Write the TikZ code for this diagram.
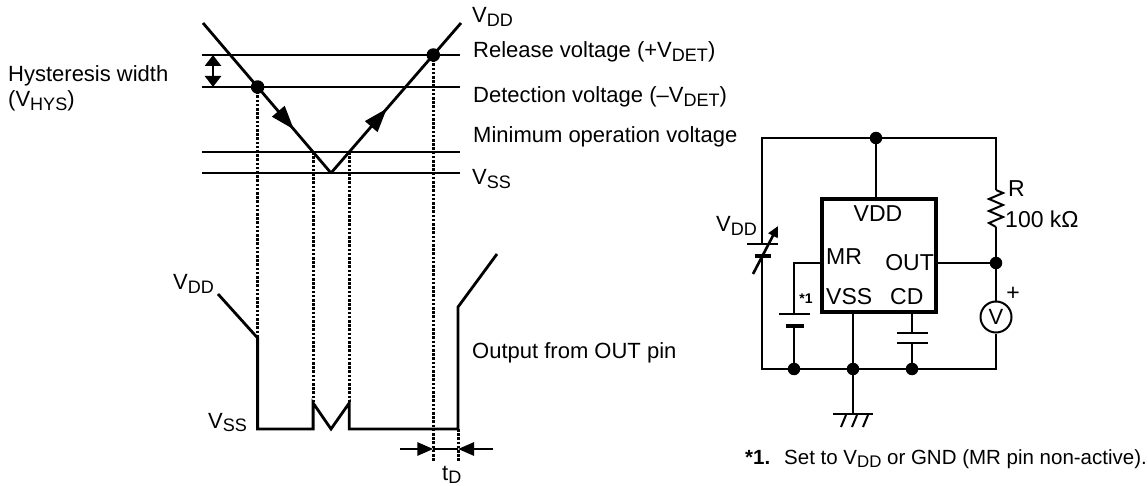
\documentclass[tikz,border=0pt]{standalone}
\usepackage{fontspec}
\setmainfont{Liberation Sans}
\usetikzlibrary{arrows.meta,decorations.markings}
\makeatletter
\newcommand{\sbs}[1]{\raisebox{-0.17em}{\fontsize{\fpeval{0.82*\f@size}}{10}\selectfont #1}}
\makeatother
\begin{document}
\begin{tikzpicture}[x=1pt,y=-1pt,
  txt/.style={font=\fontsize{22}{26}\selectfont, inner sep=0pt},
  ctxt/.style={font=\fontsize{23}{27}\selectfont, inner sep=0pt},
  ftxt/.style={font=\fontsize{20.5}{24}\selectfont, inner sep=0pt},
  mainln/.style={line width=2.8pt},
  wireln/.style={line width=2pt},
  boxln/.style={line width=3.2pt},
  dotln/.style={line width=3pt, dash pattern=on 2.6pt off 1.6pt},
  jdot/.style={circle, fill=black, inner sep=0pt, minimum size=13.5pt},
  cdot/.style={circle, fill=black, inner sep=0pt, minimum size=12.5pt},
  headT/.style={-{Triangle[length=16pt,width=13pt]}},
  midhead/.style={postaction={decorate, decoration={markings,
     mark=at position #1 with {\arrow{Triangle[length=24pt,width=16pt]}}}}},
]
\useasboundingbox (0,0) rectangle (1148,486);

% ---------------- top: voltage levels ----------------
\coordinate (relA) at (202,55);  \coordinate (relB) at (460,55);
\coordinate (detA) at (202,87);  \coordinate (detB) at (460,87);
\coordinate (minA) at (202,152); \coordinate (minB) at (460,152);
\coordinate (vssA) at (202,173); \coordinate (vssB) at (460,173);
\coordinate (dS) at (203,23);
\coordinate (vB) at (331,173);
\coordinate (aE) at (461,23);

\draw[mainln] (relA) -- (relB);
\draw[mainln] (detA) -- (detB);
\draw[mainln] (minA) -- (minB);
\draw[mainln] (vssA) -- (vssB);

\coordinate (detDot) at (intersection of dS--vB and detA--detB);
\coordinate (relDot) at (intersection of vB--aE and relA--relB);
\coordinate (minL) at (intersection of dS--vB and minA--minB);
\coordinate (minR) at (intersection of vB--aE and minA--minB);

% hysteresis arrow
\coordinate (hysT) at (213,55);
\coordinate (hysB) at (213,87);
\draw[line width=2.8pt, {Triangle[length=11pt,width=16pt]}-{Triangle[length=11pt,width=16pt]}] (hysT) -- (hysB);

% output waveform coordinates
\coordinate (oA) at (218,294);
\coordinate (oB) at (detDot |- 0,338);
\coordinate (oC) at (detDot |- 0,429);
\coordinate (oD) at (minL |- 0,429);
\coordinate (oE) at (minL |- 0,403);
\coordinate (oF) at (vB |- 0,429);
\coordinate (oG) at (minR |- 0,403);
\coordinate (oH) at (minR |- 0,429);
\coordinate (oI) at (458,429);
\coordinate (oJ) at (458,307);
\coordinate (oK) at (497,254);
\coordinate (tdL) at (relDot |- 0,461);
\coordinate (tdR) at (458,461);

% dotted projections
\draw[dotln] (detDot) -- (oB);
\draw[dotln] (minL) -- (oE);
\draw[dotln] (minR) -- (oG);
\draw[dotln] (relDot) -- (tdL);
\draw[dotln] (oI) -- (tdR);

% V input
\draw[mainln, midhead=0.71] (dS) -- (vB);
\draw[mainln, midhead=0.43] (vB) -- (aE);
\node[jdot] (dDot) at (detDot) {};
\node[jdot] (rDot) at (relDot) {};

% output
\draw[mainln, line join=miter] (oA) -- (oB) -- (oC) -- (oD) -- (oE) -- (oF) -- (oG) -- (oH) -- (oI) -- (oJ) -- (oK);

% t_D arrows
\coordinate (tdLa) at (400,449);
\coordinate (tdLb) at (relDot |- 0,449);
\coordinate (tdRa) at (493,449);
\coordinate (tdRb) at (458,449);
\draw[line width=2.8pt, headT] (tdLa) -- (tdLb);
\draw[line width=2.8pt, headT] (tdRa) -- (tdRb);
\draw[line width=1.4pt] (tdLb) -- (tdRb);

% labels left part
\node[txt, anchor=base west] (lVdd) at (472,23) {V\sbs{DD}};
\node[txt, anchor=base west] (lRel) at (473,58) {Release voltage (+V\sbs{DET})};
\node[txt, anchor=base west] (lDet) at (473,103) {Detection voltage (–V\sbs{DET})};
\node[txt, anchor=base west] (lMin) at (473,143) {Minimum operation voltage};
\node[txt, anchor=base west] (lVss) at (472,185) {V\sbs{SS}};
\node[txt, anchor=base west] (lHys) at (8,82) {Hysteresis width};
\node[txt, anchor=base west] (lHys2) at (8,107) {(V\sbs{HYS})};
\node[txt, anchor=base west] (oVdd) at (173,290) {V\sbs{DD}};
\node[txt, anchor=base west] (oVss) at (208,428) {V\sbs{SS}};
\node[txt, anchor=base west] (lOut) at (472,358) {Output from OUT pin};
\node[txt, anchor=base west] (lTd) at (442,480) {t\sbs{D}};

% ---------------- circuit ----------------
\coordinate (cTL) at (762,138);
\coordinate (cTR) at (996,138);
\coordinate (cBL) at (762,369);
\coordinate (cBR) at (996,369);
\coordinate (batTop) at (762,244);
\coordinate (batBot) at (762,256);
\coordinate (rTop) at (996,190);
\coordinate (rBot) at (996,227);
\coordinate (outJ) at (996,263);
\coordinate (vddPin) at (876,199);
\coordinate (outPin) at (936,263);
\coordinate (mrPin) at (822,263);
\coordinate (mrCorner) at (794,263);
\coordinate (mrBatTop) at (794,314);
\coordinate (mrBatBot) at (794,326);
\coordinate (vssPin) at (853,312);
\coordinate (cdPin) at (912,312);
\coordinate (capTop) at (912,333);
\coordinate (capBot) at (912,343);
\coordinate (gnd) at (853,414);

% IC box
\draw[boxln] (822,199) rectangle (936,312);
\node[ctxt] (tVDD) at (878,213.5) {VDD};
\node[ctxt, anchor=base west] (tMR) at (826,265) {MR};
\node[ctxt, anchor=base east] (tOUT) at (934,271) {OUT};
\node[ctxt, anchor=base west] (tVSS) at (826,305) {VSS};
\node[ctxt, anchor=base west] (tCD) at (890,305) {CD};

% top wire and pins
\draw[wireln] (batTop) -- (cTL) -- (cTR) -- (rTop);
\node[cdot] (jTop) at (876,138) {};
\draw[wireln] (jTop) -- (vddPin);

% resistor
\draw[wireln, line join=miter] (rTop) -- (1003,193) -- (989,199) -- (1003,205) -- (989,211) -- (1003,217) -- (989,223) -- (rBot);
\node[ctxt, anchor=base west] (tR) at (1008,197) {R};
\node[ctxt, anchor=base west] (tRv) at (1005,228) {100 kΩ};

% output node and voltmeter
\node[cdot] (jOut) at (outJ) {};
\draw[wireln] (outPin) -- (jOut);
\node[draw, circle, line width=2pt, minimum size=31pt, inner sep=0pt, font=\fontsize{22}{26}\selectfont] (vm) at (996,317) {V};
\node[ctxt] (tPlus) at (1013,294) {+};
\draw[wireln] (rBot) -- (jOut) -- (vm.north);
\draw[wireln] (vm.south) -- (cBR) -- (cBL) -- (batBot);

% variable battery V_DD
\draw[wireln] (747,244) -- (778,244);
\draw[line width=3.6pt] (755,256) -- (771,256);
\coordinate (varA) at (753,274);
\coordinate (varB) at (778,226);
\draw[line width=2.6pt, -{Triangle[length=11pt,width=10pt]}] (varA) -- (varB);
\node[txt, anchor=base west] (tVddC) at (716,232) {V\sbs{DD}};

% MR battery
\draw[wireln] (mrPin) -- (mrCorner) -- (mrBatTop);
\draw[wireln] (779,314) -- (810,314);
\draw[line width=3.6pt] (786,326) -- (804,326);
\node[cdot] (jMR) at (794,369) {};
\draw[wireln] (mrBatBot) -- (jMR);
\node[inner sep=0pt, font=\fontsize{14}{15}\selectfont\bfseries] (tStar) at (806,299) {*1};

% VSS to ground
\node[cdot] (jVss) at (853,369) {};
\draw[wireln] (vssPin) -- (jVss) -- (gnd);
\draw[wireln] (833,414) -- (873,414);
\draw[wireln] (846,415) -- (841,427);
\draw[wireln] (857,415) -- (852,427);
\draw[wireln] (868,415) -- (863,427);

% CD capacitor
\node[cdot] (jCD) at (912,369) {};
\draw[wireln] (cdPin) -- (capTop);
\draw[wireln] (897,333) -- (928,333);
\draw[wireln] (897,343) -- (928,343);
\draw[wireln] (capBot) -- (jCD);

% footnote
\node[ftxt, anchor=base west, font=\fontsize{20.5}{24}\selectfont\bfseries] (fnA) at (745,464) {*1.};
\node[ftxt, anchor=base west] (fnB) at (784,464) {Set to V\sbs{DD} or GND (MR pin non-active).};
\end{tikzpicture}
\end{document}
